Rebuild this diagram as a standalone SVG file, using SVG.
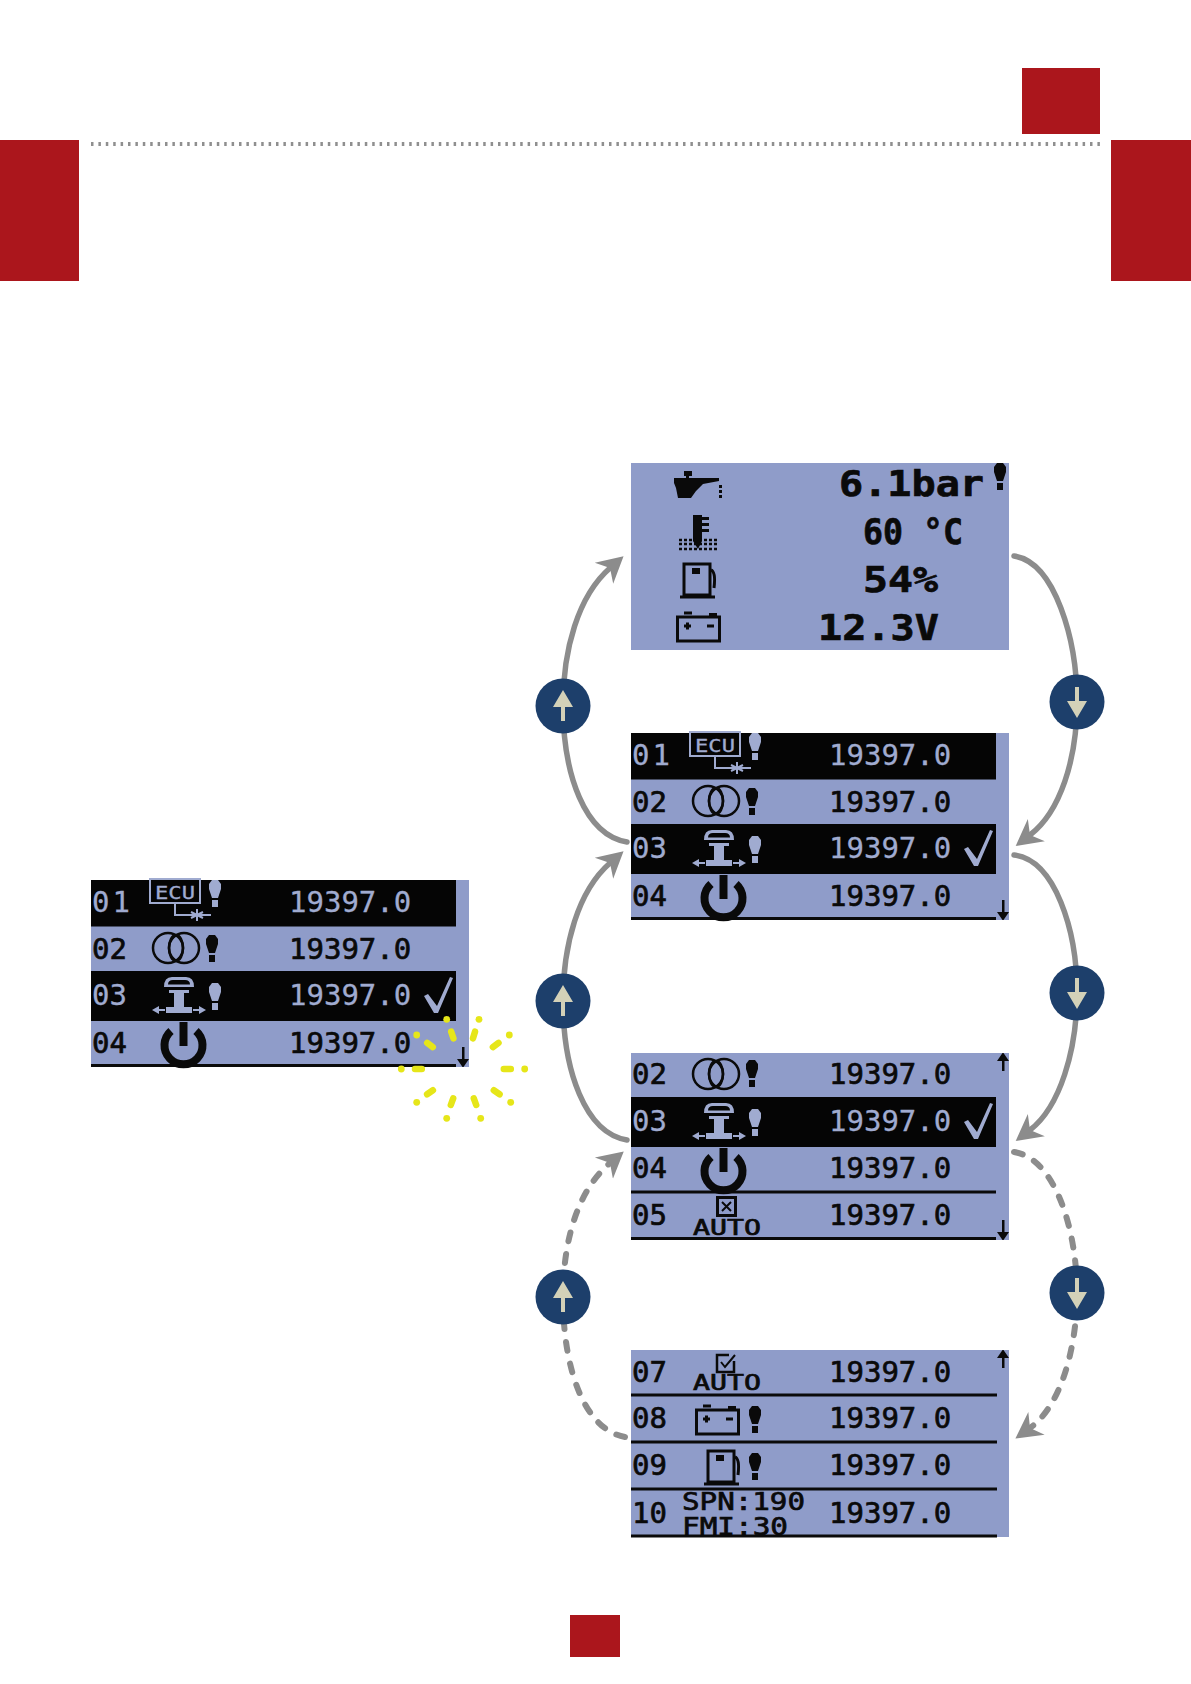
<svg xmlns="http://www.w3.org/2000/svg" xmlns:xlink="http://www.w3.org/1999/xlink" width="1191" height="1684" viewBox="0 0 1191 1684">
<style>
.bg{fill:#8f9cc9}
.blk{fill:#050505}
.red{fill:#ab161c}
.t{font-family:"DejaVu Sans Mono","Liberation Mono",monospace;font-size:29px;fill:#0a0a0a;stroke:#0a0a0a;stroke-width:.7px}
.b{font-weight:bold;font-size:36px}
.l{fill:#a0abd0;stroke:#a0abd0;stroke-width:.3px}
.ic{color:#0a0a0a}
.il{color:#a0abd0}
.rule{stroke:#0a0a0a;stroke-width:3}
.sol{fill:none;stroke:#8c8c8c;stroke-width:5.5;stroke-linecap:round;marker-end:url(#head)}
.das{fill:none;stroke:#8c8c8c;stroke-width:6;stroke-linecap:round;stroke-dasharray:9 13;marker-end:url(#head)}
.btn{fill:#1d3f6b}
.ba{fill:#d3d1b8}
.sp{stroke:#e6e619;stroke-width:6.500;stroke-linecap:round;fill:none}
.dot{fill:#e6e619}
</style>
<defs>
<marker id="head" markerUnits="userSpaceOnUse" markerWidth="34" markerHeight="34" refX="8" refY="14" orient="auto" viewBox="0 0 34 28">
<path d="M26 14 L0 0 L8 14 L0 28 Z" fill="#8c8c8c"/>
</marker>
<g id="bang" fill="currentColor"><path d="M-3 0h6l3 4v5l-3 9h-6l-3-9v-5z M-3 20h6v7h-6z"/></g>
<g id="ecu" fill="none" stroke="currentColor" stroke-width="2"><rect x="59" y="-1" width="50" height="24"/><path d="M84 23V35H120M106 29V41M100 32L112 38M100 38L112 32"/></g>
<g id="rings" fill="none" stroke="currentColor" stroke-width="2.500"><circle cx="77" cy="68" r="15"/><circle cx="93" cy="68" r="15"/><ellipse cx="85" cy="68" rx="7" ry="13"/></g>
<g id="ant" fill="currentColor"><path d="M73 107Q73 97 81 97H95Q103 97 103 107Z M77 104.500H99Q99 100 94 100H82Q77 100 77 104.500Z" fill-rule="evenodd"/><path d="M78 110H98V113H93V127H101V133H75V127H83V113H78Z"/><path d="M61 130l7-4v3h6v2h-6v3z M115 130l-7-4v3h-6v2h6v3z"/></g>
<g id="pow"><path d="M80 151A19 19 0 1 0 105 151" fill="none" stroke="currentColor" stroke-width="8"/><rect x="88.500" y="142" width="8" height="24" fill="currentColor"/></g>
<polygon id="chk" points="333,116 337,114 346,126 359,97 362,98 347,133 343,133" fill="currentColor"/>
<path id="dn" d="M371 167h2.500v12h4.500l-5.500 8h-1l-5.500-8h5z" fill="currentColor"/>
<path id="upa" d="M371 18h2.500v-10h4.500l-5.500-8h-1l-5.500 8h5z" fill="currentColor"/>
<g id="bat" fill="none" stroke="currentColor" stroke-width="3"><rect x="46.500" y="154" width="42" height="24"/><path d="M53 150H61M78 151.500H86M53 163H60M56.500 159.500V166.500M76 163H83" /></g>
<g id="fuel" fill="none" stroke="currentColor" stroke-width="3"><rect x="53" y="101" width="26" height="31"/><path d="M49 134H84M80 107Q85 109 83 125"/><rect x="61" y="105" width="8" height="6" fill="currentColor" stroke="none"/></g>
</defs>
<rect width="1191" height="1684" fill="#fff"/>

<g id="page-marks">
<rect class="red" x="1022" y="68" width="78" height="66"/>
<rect class="red" x="0" y="140" width="79" height="141"/>
<rect class="red" x="1111" y="140" width="80" height="141"/>
<rect class="red" x="570" y="1615" width="50" height="42"/>
<line x1="91" y1="144" x2="1100" y2="144" stroke="#8f8f8f" stroke-width="4" stroke-dasharray="2.500 4.900"/>
</g>

<g id="screen-main" transform="translate(91,880)">
<rect class="bg" width="378" height="187"/>
<rect class="blk" width="365" height="46.500"/>
<rect class="blk" y="91" width="365" height="50"/>
<line class="rule" x1="0" y1="185.500" x2="365" y2="185.500"/>
<text class="t l" x="1" y="32" textLength="38" lengthAdjust="spacing">01</text><use href="#ecu" class="il"/><text class="t l" x="64" y="19" style="font-size:18px" textLength="40" lengthAdjust="spacingAndGlyphs">ECU</text><use href="#bang" class="il" x="124"/><text class="t l" x="198" y="32">19397.0</text>
<text class="t" x="1" y="79">02</text><use href="#rings" class="ic"/><use href="#bang" class="ic" x="121" y="55"/><text class="t" x="198" y="79">19397.0</text>
<text class="t l" x="1" y="125">03</text><use href="#ant" class="il"/><use href="#bang" class="il" x="124" y="103"/><text class="t l" x="198" y="125">19397.0</text><use href="#chk" class="il"/>
<text class="t" x="1" y="173">04</text><use href="#pow" class="ic"/><text class="t" x="198" y="173">19397.0</text><use href="#dn" class="ic"/>
</g>

<g id="screen-gauges" transform="translate(631,463)">
<rect class="bg" width="378" height="187"/>
<g class="ic" fill="#0a0a0a">
<path d="M53 8H61V13H58V15H88V18L72 21L65 28L60 35H47L45 25L43 20V15H55V13H53Z"/><path d="M88 22h3v3h-3zM88 27h3v3h-3zM88 32h3v3h-3z"/>
<path d="M62 52H71V54H78V57H71V60H78V63H71V66H78V69H71V78L67 86L62 78Z"/>
<path d="M48 77H86M48 81H86M48 86H86" stroke="#0a0a0a" stroke-width="2.500" stroke-dasharray="3 2" fill="none"/>
</g>
<use href="#fuel" class="ic"/><use href="#bat" class="ic"/>
<text class="t b" x="208" y="33" textLength="145" lengthAdjust="spacingAndGlyphs">6.1bar</text>
<text class="t b" x="232" y="81" textLength="100" lengthAdjust="spacingAndGlyphs">60 °C</text>
<text class="t b" x="232" y="129" textLength="75" lengthAdjust="spacingAndGlyphs">54%</text>
<text class="t b" x="187" y="177" textLength="121" lengthAdjust="spacingAndGlyphs">12.3V</text>
<use href="#bang" class="ic" x="369"/>
</g>

<g id="screen-list-1" transform="translate(631,733)">
<rect class="bg" width="378" height="187"/>
<rect class="blk" width="365" height="46.500"/>
<rect class="blk" y="91" width="365" height="50"/>
<line class="rule" x1="0" y1="185.500" x2="365" y2="185.500"/>
<text class="t l" x="1" y="32" textLength="38" lengthAdjust="spacing">01</text><use href="#ecu" class="il"/><text class="t l" x="64" y="19" style="font-size:18px" textLength="40" lengthAdjust="spacingAndGlyphs">ECU</text><use href="#bang" class="il" x="124"/><text class="t l" x="198" y="32">19397.0</text>
<text class="t" x="1" y="79">02</text><use href="#rings" class="ic"/><use href="#bang" class="ic" x="121" y="55"/><text class="t" x="198" y="79">19397.0</text>
<text class="t l" x="1" y="125">03</text><use href="#ant" class="il"/><use href="#bang" class="il" x="124" y="103"/><text class="t l" x="198" y="125">19397.0</text><use href="#chk" class="il"/>
<text class="t" x="1" y="173">04</text><use href="#pow" class="ic"/><text class="t" x="198" y="173">19397.0</text><use href="#dn" class="ic"/>
</g>

<g id="screen-list-2" transform="translate(631,1053)">
<rect class="bg" width="378" height="187"/>
<rect class="blk" y="44" width="365" height="50"/>
<line class="rule" x1="0" y1="139" x2="365" y2="139"/>
<line class="rule" x1="0" y1="185.500" x2="365" y2="185.500"/>
<text class="t" x="1" y="31">02</text><use href="#rings" class="ic" y="-47"/><use href="#bang" class="ic" x="121" y="7"/><text class="t" x="198" y="31">19397.0</text><use href="#upa" class="ic"/>
<text class="t l" x="1" y="78">03</text><use href="#ant" class="il" y="-47"/><use href="#bang" class="il" x="124" y="56"/><text class="t l" x="198" y="78">19397.0</text><use href="#chk" class="il" y="-47"/>
<text class="t" x="1" y="125">04</text><use href="#pow" class="ic" y="-47"/><text class="t" x="198" y="125">19397.0</text>
<text class="t" x="1" y="172">05</text>
<g class="ic" fill="none" stroke="#0a0a0a"><rect x="86.500" y="144.500" width="18" height="18" stroke-width="3"/><path d="M91 149L100 158M100 149L91 158" stroke-width="2"/></g>
<text class="t" x="62" y="182" style="font-size:21px" textLength="68" lengthAdjust="spacingAndGlyphs">AUTO</text>
<text class="t" x="198" y="172">19397.0</text><use href="#dn" class="ic"/>
</g>

<g id="screen-list-3" transform="translate(631,1350)">
<rect class="bg" width="378" height="187"/>
<line class="rule" x1="0" y1="45" x2="366" y2="45"/>
<line class="rule" x1="0" y1="92" x2="366" y2="92"/>
<line class="rule" x1="0" y1="139" x2="366" y2="139"/>
<line class="rule" x1="0" y1="186" x2="366" y2="186"/>
<text class="t" x="1" y="32">07</text>
<g fill="none" stroke="#0a0a0a"><path d="M98 5H86V22H103V11" stroke-width="2.500"/><path d="M90 12L94 17L104 5" stroke-width="2"/></g>
<text class="t" x="62" y="40" style="font-size:21px" textLength="68" lengthAdjust="spacingAndGlyphs">AUTO</text>
<text class="t" x="198" y="32">19397.0</text><use href="#upa" class="ic"/>
<text class="t" x="1" y="78">08</text><use href="#bat" class="ic" x="19" y="-94"/><use href="#bang" class="ic" x="124" y="56"/><text class="t" x="198" y="78">19397.0</text>
<text class="t" x="1" y="125">09</text><use href="#fuel" class="ic" x="24"/><use href="#bang" class="ic" x="124" y="103"/><text class="t" x="198" y="125">19397.0</text>
<text class="t" x="1" y="173">10</text>
<text class="t" x="51" y="160" style="font-size:25px" textLength="123" lengthAdjust="spacingAndGlyphs">SPN:190</text>
<text class="t" x="51" y="185" style="font-size:25px" textLength="106" lengthAdjust="spacingAndGlyphs">FMI:30</text>
<text class="t" x="198" y="173">19397.0</text>
</g>

<g id="connectors">
<path class="sol" d="M627 842C585 835 563 775 563 705C563 650 578 596 610 568"/>
<path class="sol" d="M627 1140C585 1133 563 1070 563 1001C563 945 578 891 610 863"/>
<path class="das" d="M625 1437C585 1430 563 1370 563 1297C563 1240 578 1190 610 1163"/>
<path class="sol" d="M1014 556C1055 562 1077 640 1077 702C1077 760 1060 812 1030 835"/>
<path class="sol" d="M1014 855C1055 860 1077 930 1077 993C1077 1050 1060 1107 1030 1130"/>
<path class="das" d="M1014 1152C1055 1158 1077 1230 1077 1293C1077 1345 1062 1405 1030 1428"/>
</g>

<g id="btn-up-1"><circle class="btn" cx="563" cy="706" r="27.500"/><path class="ba" d="M563 690L573 707H565V721H561V707H553Z"/></g>
<g id="btn-up-2"><circle class="btn" cx="563" cy="1001" r="27.500"/><path class="ba" d="M563 985L573 1002H565V1016H561V1002H553Z"/></g>
<g id="btn-up-3"><circle class="btn" cx="563" cy="1297" r="27.500"/><path class="ba" d="M563 1281L573 1298H565V1312H561V1298H553Z"/></g>
<g id="btn-down-1"><circle class="btn" cx="1077" cy="702" r="27.500"/><path class="ba" d="M1077 718L1067 701H1075V687H1079V701H1087Z"/></g>
<g id="btn-down-2"><circle class="btn" cx="1077" cy="993" r="27.500"/><path class="ba" d="M1077 1009L1067 992H1075V978H1079V992H1087Z"/></g>
<g id="btn-down-3"><circle class="btn" cx="1077" cy="1293" r="27.500"/><path class="ba" d="M1077 1309L1067 1292H1075V1278H1079V1292H1087Z"/></g>

<g id="press-sparkle">
<path class="sp" d="M451.200 1031.700L453.400 1038.300M475 1031.700L473 1038.300M498.500 1042.900L492.900 1047.100M503.800 1069H510.800M499.600 1094.300L493.800 1090.300M476.200 1105L473.800 1098.400M450.800 1105L453.200 1098.400M427.100 1094.300L432.900 1090.300M415 1069H421.800M427.200 1042.900L432.800 1047.100"/>
<g class="dot"><circle cx="446.700" cy="1019.300" r="3.400"/><circle cx="479" cy="1019.300" r="3.400"/><circle cx="509.300" cy="1035" r="3.400"/><circle cx="524.700" cy="1069" r="3.400"/><circle cx="510.700" cy="1102.300" r="3.400"/><circle cx="480.700" cy="1118.300" r="3.400"/><circle cx="446.700" cy="1118.300" r="3.400"/><circle cx="416.700" cy="1102.300" r="3.400"/><circle cx="401.300" cy="1069" r="3.400"/><circle cx="416.700" cy="1035" r="3.400"/></g>
</g>
</svg>
